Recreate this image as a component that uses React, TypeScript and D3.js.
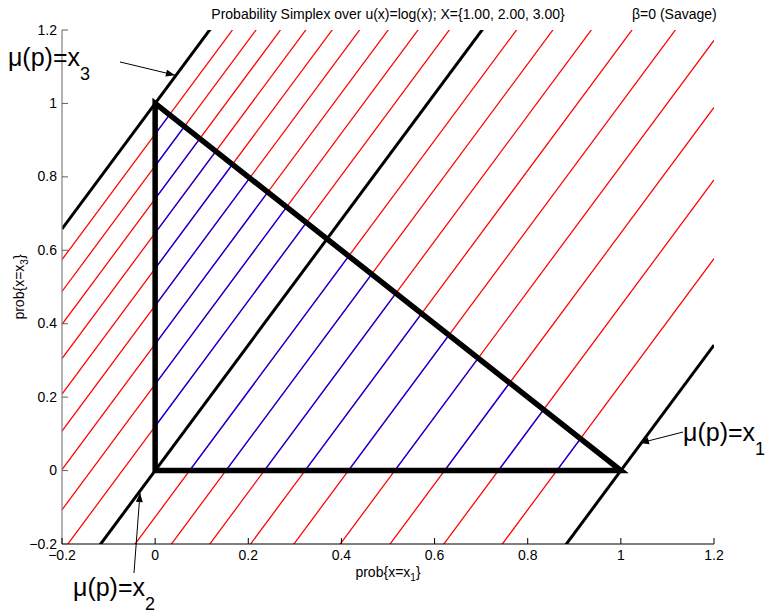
import React from 'react';
import * as d3 from 'd3';

// outcomes and the certainty-equivalent levels drawn as iso-utility lines
const outcomes = [1.0, 2.0, 3.0];
const ceLevels = [1.0, 1.1, 1.2, 1.3, 1.4, 1.5, 1.6, 1.7, 1.8, 1.9, 2.0, 2.1, 2.2, 2.3, 2.4, 2.5, 2.6, 2.7, 2.8, 2.9, 3.0];
const boundaryLevels = [1.0, 2.0, 3.0];
const tickValues = [-0.2, 0, 0.2, 0.4, 0.6, 0.8, 1.0, 1.2];
const simplex = [[0, 0], [1, 0], [0, 1]];

// annotation labels with arrows (data coordinates)
const labels = [
  { sub: '3', tx: -0.316, ty: 1.102, from: [-0.0755, 1.113], to: [0.0426, 1.077] },
  { sub: '2', tx: -0.1764, ty: -0.3416, from: [-0.0454, -0.279], to: [-0.0325, -0.061] },
  { sub: '1', tx: 1.1335, ty: 0.081, from: [1.1335, 0.105], to: [1.041, 0.075] },
];

const W = 771, H = 616;
const FONT = 'Liberation Sans, Arial, Helvetica, sans-serif';

const fmt = (v: number) => {
  const s = v === 0 ? '0' : v === 1 ? '1' : String(Math.round(v * 10) / 10);
  return s.replace('-', '\u2212');
};

export default function App() {
  const x = d3.scaleLinear().domain([-0.2, 1.2]).range([62, 714]);
  const y = d3.scaleLinear().domain([-0.2, 1.2]).range([544, 30]);

  const u = outcomes.map(Math.log);
  // p3 as a function of p1 on the line where expected utility equals log(c)
  const isoLine = (c: number) => {
    const p3 = (p1: number) => (Math.log(c) - u[1] - (u[0] - u[1]) * p1) / (u[2] - u[1]);
    return [[-0.2, p3(-0.2)], [1.2, p3(1.2)]] as [number, number][];
  };

  const line = d3.line<[number, number]>().x(d => x(d[0])).y(d => y(d[1]));
  const thin = ceLevels.filter(c => !boundaryLevels.includes(c));
  const triPath = line(simplex as [number, number][]) + 'Z';

  const arrowHead = (from: number[], to: number[]) => {
    const x0 = x(from[0]), y0 = y(from[1]), x1 = x(to[0]), y1 = y(to[1]);
    const a = Math.atan2(y1 - y0, x1 - x0);
    const L = 9, hw = 3.5;
    const bx = x1 - L * Math.cos(a), by = y1 - L * Math.sin(a);
    const px = -Math.sin(a) * hw, py = Math.cos(a) * hw;
    return `M${x1},${y1}L${bx + px},${by + py}L${bx - px},${by - py}Z`;
  };

  return (
    <svg width={W} height={H} style={{ position: 'absolute', left: 0, top: 0, background: '#fff' }} fontFamily={FONT}>
      <defs>
        <clipPath id="plot">
          <rect x={x(-0.2)} y={y(1.2)} width={x(1.2) - x(-0.2)} height={y(-0.2) - y(1.2)} />
        </clipPath>
        <clipPath id="tri">
          <path d={triPath} />
        </clipPath>
      </defs>

      <g clipPath="url(#plot)">
        {thin.map(c => (
          <path key={'r' + c} d={line(isoLine(c)) || ''} stroke="#ff0000" strokeWidth={1.25} fill="none" />
        ))}
      </g>
      <g clipPath="url(#tri)">
        {thin.map(c => (
          <path key={'b' + c} d={line(isoLine(c)) || ''} stroke="#0000ff" strokeWidth={1.25} fill="none" />
        ))}
      </g>
      <g clipPath="url(#plot)">
        {boundaryLevels.map(c => (
          <path key={'k' + c} d={line(isoLine(c)) || ''} stroke="#000" strokeWidth={3} fill="none" />
        ))}
      </g>
      <path d={triPath} stroke="#000" strokeWidth={5.5} fill="none" strokeLinejoin="miter" />

      {/* axes */}
      <line x1={x(-0.2)} x2={x(-0.2)} y1={y(-0.2)} y2={y(1.2)} stroke="#808080" strokeWidth={1.2} />
      <line x1={x(-0.2)} x2={x(1.2)} y1={y(-0.2)} y2={y(-0.2)} stroke="#000" strokeWidth={1} />
      {tickValues.map(t => (
        <g key={'yt' + t}>
          <line x1={x(-0.2)} x2={x(-0.2) + 6} y1={y(t)} y2={y(t)} stroke="#606060" />
          <text x={x(-0.2) - 5} y={y(t)} dy="0.33em" textAnchor="end" fontSize={14}>{fmt(t)}</text>
        </g>
      ))}
      {tickValues.map(t => (
        <g key={'xt' + t}>
          <line x1={x(t)} x2={x(t)} y1={y(-0.2)} y2={y(-0.2) - 6} stroke="#000" />
          <text x={x(t)} y={y(-0.2) + 16} textAnchor="middle" fontSize={14}>{fmt(t)}</text>
        </g>
      ))}

      <text x={(x(-0.2) + x(1.2)) / 2} y={577} textAnchor="middle" fontSize={14}>
        prob{'{'}x=x<tspan fontSize={10} dy={4}>1</tspan><tspan dy={-4}>{'}'}</tspan>
      </text>
      <text transform={`translate(24,${(y(-0.2) + y(1.2)) / 2}) rotate(-90)`} textAnchor="middle" fontSize={14}>
        prob{'{'}x=x<tspan fontSize={10} dy={4}>3</tspan><tspan dy={-4}>{'}'}</tspan>
      </text>

      <text x={(x(-0.2) + x(1.2)) / 2} y={19} textAnchor="middle" fontSize={14}>
        Probability Simplex over u(x)=log(x); X={'{'}{outcomes.map(v => v.toFixed(2)).join(', ')}{'}'}
      </text>
      <text x={632} y={19} fontSize={14}>β=0 (Savage)</text>

      {labels.map(l => (
        <g key={'a' + l.sub}>
          <line x1={x(l.from[0])} y1={y(l.from[1])} x2={x(l.to[0])} y2={y(l.to[1])} stroke="#000" strokeWidth={1} />
          <path d={arrowHead(l.from, l.to)} fill="#000" />
          <text x={x(l.tx)} y={y(l.ty)} fontSize={25}>
            μ(p)=x<tspan fontSize={18} dy={14}>{l.sub}</tspan>
          </text>
        </g>
      ))}
    </svg>
  );
}
